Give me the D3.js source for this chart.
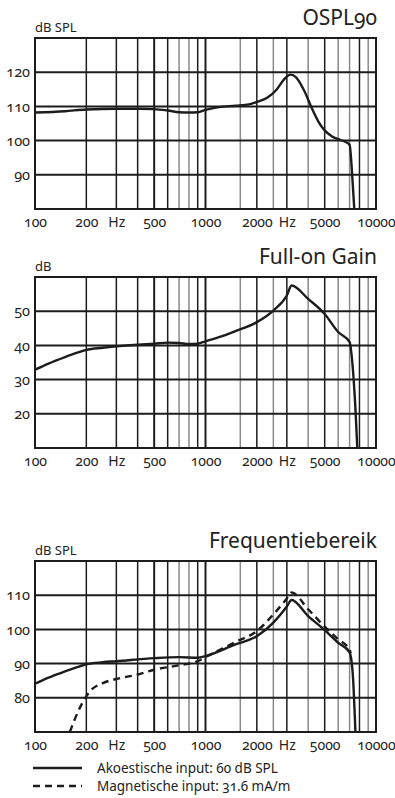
<!DOCTYPE html>
<html>
<head>
<meta charset="utf-8">
<script src="https://cdn.jsdelivr.net/npm/d3@7"></script>
<style>
  html, body { margin: 0; padding: 0; background: #fff; }
  svg { display: block; font-family: "Noto Sans", "Open Sans", sans-serif; font-variant-numeric: oldstyle-nums; }
</style>
</head>
<body>
<div id="chart"></div>
<script>
// shared frequency axis
const xTickValues = [100, 200, 300, 500, 1000, 2000, 3000, 5000, 10000];
const xTickLabels = ['100', '200', 'Hz', '500', '1000', '2000', 'Hz', '5000', '10000'];
const gridFreqs = [200, 300, 400, 500, 600, 700, 800, 900, 1000, 1600, 2000, 2500, 3000,
    4000, 5000, 6000, 7000, 8000, 9000];
const greyFreqs = [700, 800, 1600, 2500, 4000, 6000, 7000, 9000];

// OSPL90
const osplFreq = [100, 150, 200, 300, 400, 500, 600, 700, 800, 900, 1000, 1200, 1500, 1800, 2000,
    2300, 2600, 2900, 3150, 3400, 3800, 4200, 4600, 5000, 5500, 6000, 6500, 7000, 7250, 7500];
const osplValues = [108.2, 108.6, 109.1, 109.3, 109.3, 109.2, 108.8, 108.3, 108.2, 108.3, 109.0,
    109.8, 110.2, 110.6, 111.3, 112.5, 114.8, 118.0, 119.3, 118.5, 114.5, 109.5, 105.5, 103.0,
    101.3, 100.4, 99.8, 98.8, 90, 78];
const osplTicks = [90, 100, 110, 120];

// Full-on Gain
const gainFreq = [100, 120, 150, 175, 200, 250, 300, 400, 500, 600, 700, 800, 900, 1000, 1200,
    1500, 2000, 2500, 3000, 3200, 4000, 5000, 6000, 7000, 7300, 7600, 7800];
const gainValues = [32.9, 34.7, 36.6, 37.8, 38.7, 39.3, 39.7, 40.2, 40.5, 40.8, 40.7, 40.4, 40.5,
    41.2, 42.4, 44.2, 46.8, 50.2, 54.6, 57.5, 53.6, 49.2, 43.9, 41.0, 33.7, 20.1, 8];
const gainTicks = [20, 30, 40, 50];

// Frequentiebereik
const acFreq = [100, 120, 150, 175, 200, 250, 300, 500, 700, 900, 1000, 1500, 2000, 2500, 3000,
    3200, 4000, 5000, 6000, 7000, 7300, 7600];
const acValues = [84.1, 85.9, 87.7, 88.9, 89.8, 90.4, 90.7, 91.6, 91.9, 91.7, 92.2, 95.6, 98.0,
    102.0, 106.7, 108.6, 103.9, 99.8, 96.1, 93.3, 87.3, 68];
const magFreq = [160, 185, 210, 250, 300, 400, 500, 700, 900, 1000, 1500, 2000, 2500, 3000, 3200,
    4000, 5000, 6000, 7000, 7100];
const magValues = [70, 77.5, 81.9, 84.3, 85.5, 86.8, 88.2, 89.5, 90.7, 91.9, 96.3, 99.5, 104.4,
    109.0, 110.8, 105.9, 100.8, 97.1, 94.1, 93.0];
const freqTicks = [80, 90, 100, 110];
const legendLabels = ['Akoestische input: 60 dB SPL', 'Magnetische input: 31.6 mA/m'];

const W = 395, H = 798;
const ink = '#1c1c1c';
const svg = d3.select('#chart').append('svg').attr('width', W).attr('height', H);
const x = d3.scaleLog().domain([100, 10000]).range([35, 376]);

function panel({ id, top, domain, ticks, title, unit, series }) {
    const bottom = top + 171;
    const y = d3.scaleLinear().domain(domain).range([bottom, top]);
    const g = svg.append('g');

    g.append('clipPath').attr('id', 'clip-' + id)
        .append('rect').attr('x', x(100)).attr('y', top).attr('width', x(10000) - x(100)).attr('height', bottom - top);

    // vertical grid
    g.selectAll('line.v').data(gridFreqs).join('line')
        .attr('x1', (d) => x(d)).attr('x2', (d) => x(d))
        .attr('y1', top).attr('y2', bottom)
        .attr('stroke', (d) => greyFreqs.includes(d) ? '#8a8a8a' : ink)
        .attr('stroke-width', (d) => (d === 500 || d === 1000) ? 2 : 1.5);

    // horizontal grid
    g.selectAll('line.h').data(ticks).join('line')
        .attr('x1', x(100)).attr('x2', x(10000))
        .attr('y1', (d) => y(d)).attr('y2', (d) => y(d))
        .attr('stroke', ink).attr('stroke-width', 2);

    g.append('rect')
        .attr('x', x(100)).attr('y', top).attr('width', x(10000) - x(100)).attr('height', bottom - top)
        .attr('fill', 'none').attr('stroke', ink).attr('stroke-width', 2);

    // curves
    const line = d3.line().x((d) => x(d[0])).y((d) => y(d[1])).curve(d3.curveMonotoneX);
    series.forEach((s) => {
        g.append('path')
            .datum(d3.zip(s.freq, s.values))
            .attr('clip-path', `url(#clip-${id})`)
            .attr('d', line)
            .attr('fill', 'none').attr('stroke', ink).attr('stroke-width', 2.4)
            .attr('stroke-dasharray', s.dashed ? '7,5' : null);
    });

    // y axis labels
    g.append('g').attr('transform', `translate(${x(100)},0)`)
        .call(d3.axisLeft(y).tickValues(ticks).tickSize(0).tickPadding(5))
        .call((sel) => sel.select('.domain').remove())
        .call((sel) => sel.selectAll('text').attr('fill', '#222').style('font-size', '14.5px')
            .style('font-family', '"Noto Sans", sans-serif'));

    // x axis labels
    g.append('g').attr('transform', `translate(0,${bottom})`)
        .call(d3.axisBottom(x).tickValues(xTickValues).tickSize(0).tickPadding(8)
            .tickFormat((d, i) => xTickLabels[i]))
        .call((sel) => sel.select('.domain').remove())
        .call((sel) => sel.selectAll('text').attr('fill', '#222').style('font-size', '14px')
            .style('font-family', '"Noto Sans", sans-serif'));

    g.append('text').attr('x', x(100)).attr('y', top - 6)
        .attr('fill', '#222').style('font-size', '13px').text(unit);
    g.append('text').attr('x', x(10000) + 1).attr('y', top - 13)
        .attr('text-anchor', 'end').attr('fill', '#222').style('font-size', '21px').text(title);
}

panel({ id: 'ospl', top: 38, domain: [80, 130], ticks: osplTicks, title: 'OSPL90', unit: 'dB SPL',
    series: [{ freq: osplFreq, values: osplValues }] });
panel({ id: 'gain', top: 277, domain: [10, 60], ticks: gainTicks, title: 'Full-on Gain', unit: 'dB',
    series: [{ freq: gainFreq, values: gainValues }] });
panel({ id: 'freq', top: 561, domain: [70, 120], ticks: freqTicks, title: 'Frequentiebereik', unit: 'dB SPL',
    series: [{ freq: acFreq, values: acValues }, { freq: magFreq, values: magValues, dashed: true }] });

// legend
const legend = svg.append('g');
legendLabels.forEach((label, i) => {
    const ly = 768 + i * 18;
    legend.append('line').attr('x1', 33).attr('x2', 82).attr('y1', ly).attr('y2', ly)
        .attr('stroke', ink).attr('stroke-width', 2.4).attr('stroke-dasharray', i ? '7,5' : null);
    legend.append('text').attr('x', 97).attr('y', ly + 4.5)
        .attr('fill', '#222').style('font-size', '13.5px').text(label);
});
</script>
</body>
</html>
